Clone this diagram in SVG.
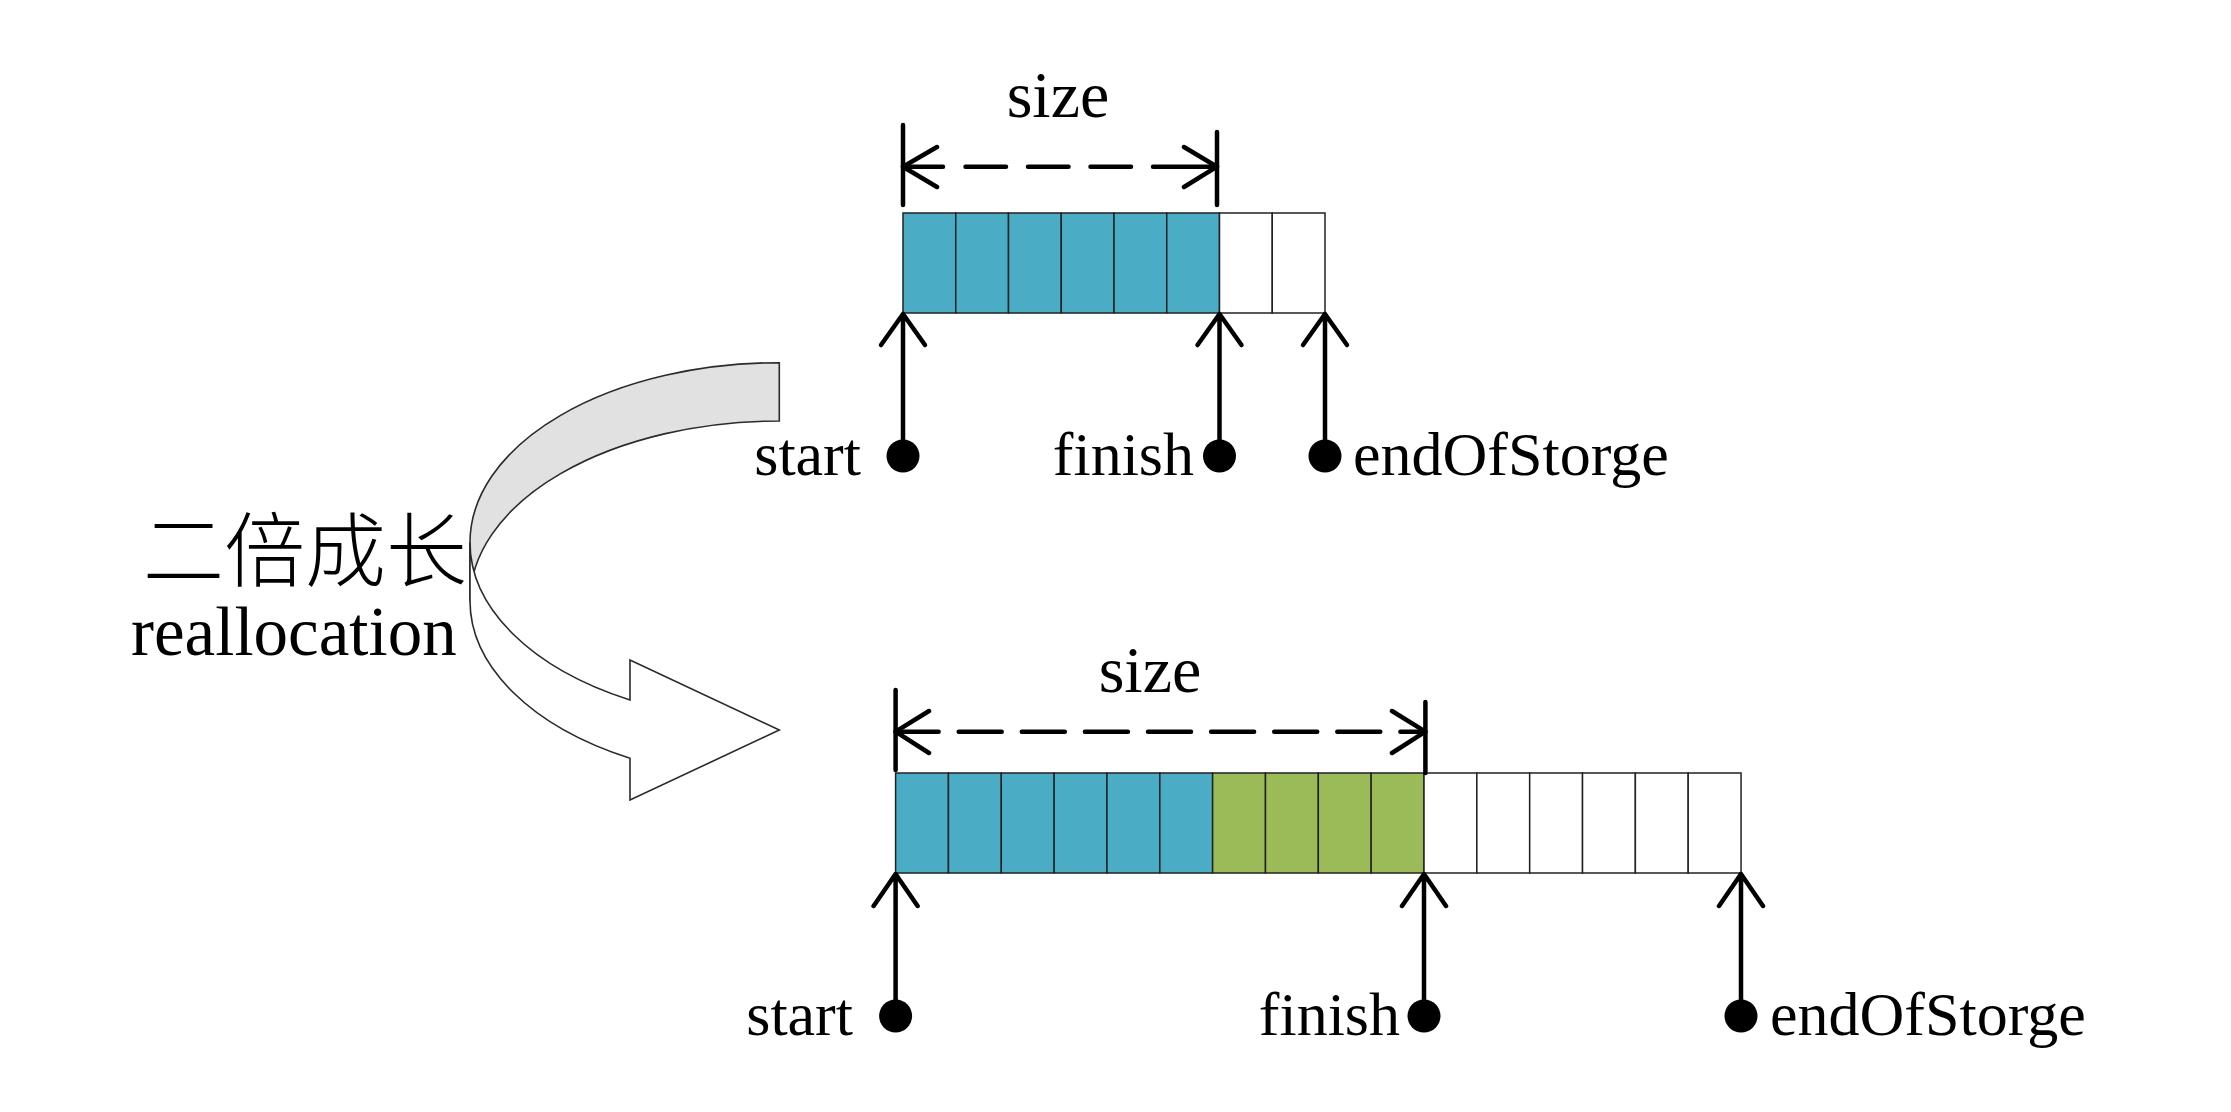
<svg xmlns="http://www.w3.org/2000/svg" width="2231" height="1112" viewBox="0 0 2231 1112">
<style>
.lbl{font-family:"Liberation Serif","Times New Roman",serif;font-size:62px;fill:#000}
.sz{font-family:"Liberation Serif","Times New Roman",serif;font-size:66px;fill:#000}
.cell{stroke:#222;stroke-width:1.5}
.blue{fill:#4BACC6}
.green{fill:#9BBB59}
.empty{fill:#fff}
.ln{fill:none;stroke:#000;stroke-width:4.5;stroke-linecap:round;stroke-linejoin:round}
.dot{fill:#000}
.curve{stroke:#2a2a2a;stroke-width:1.6;stroke-linejoin:miter}
</style>
<rect width="2231" height="1112" fill="#fff"/>

<g id="curved-arrow">
  <path class="curve" fill="#e1e1e1" d="M779.3,362.7 A309.3,179.8 0 0 0 470,542.5 L470,600.8 A309.3,179.8 0 0 1 779.3,421 Z"/>
  <path class="curve" fill="#fff" d="M470,542.5 A309.3,179.8 0 0 0 630,700 L630,660 L779.3,730 L630,800 L630,758.3 A309.3,179.8 0 0 1 470,600.8 Z"/>
</g>

<g id="growth-label">
  <text x="143" y="580" style="font-family:'Noto Sans CJK SC','Noto Sans CJK JP',sans-serif;font-size:81px;font-weight:300">二倍成长</text>
  <text class="lbl" x="131" y="655" style="font-size:69px">reallocation</text>
</g>

<g id="top-array">
  <rect class="cell blue" x="903" y="213" width="52.75" height="100"/>
  <rect class="cell blue" x="955.75" y="213" width="52.75" height="100"/>
  <rect class="cell blue" x="1008.5" y="213" width="52.75" height="100"/>
  <rect class="cell blue" x="1061.25" y="213" width="52.75" height="100"/>
  <rect class="cell blue" x="1114" y="213" width="52.75" height="100"/>
  <rect class="cell blue" x="1166.75" y="213" width="52.75" height="100"/>
  <rect class="cell empty" x="1219.5" y="213" width="52.75" height="100"/>
  <rect class="cell empty" x="1272.25" y="213" width="52.75" height="100"/>
</g>

<g id="bottom-array">
  <rect class="cell blue" x="895.6" y="773" width="52.84" height="100"/>
  <rect class="cell blue" x="948.44" y="773" width="52.84" height="100"/>
  <rect class="cell blue" x="1001.28" y="773" width="52.84" height="100"/>
  <rect class="cell blue" x="1054.12" y="773" width="52.84" height="100"/>
  <rect class="cell blue" x="1106.96" y="773" width="52.84" height="100"/>
  <rect class="cell blue" x="1159.8" y="773" width="52.84" height="100"/>
  <rect class="cell green" x="1212.64" y="773" width="52.84" height="100"/>
  <rect class="cell green" x="1265.48" y="773" width="52.84" height="100"/>
  <rect class="cell green" x="1318.32" y="773" width="52.84" height="100"/>
  <rect class="cell green" x="1371.16" y="773" width="52.84" height="100"/>
  <rect class="cell empty" x="1424" y="773" width="52.84" height="100"/>
  <rect class="cell empty" x="1476.84" y="773" width="52.84" height="100"/>
  <rect class="cell empty" x="1529.68" y="773" width="52.84" height="100"/>
  <rect class="cell empty" x="1582.52" y="773" width="52.84" height="100"/>
  <rect class="cell empty" x="1635.36" y="773" width="52.84" height="100"/>
  <rect class="cell empty" x="1688.2" y="773" width="52.84" height="100"/>
</g>

<g id="top-size-label"><text class="sz" x="1058" y="117" text-anchor="middle">size</text></g>
<g id="bottom-size-label"><text class="sz" x="1150" y="692" text-anchor="middle">size</text></g>

<g id="top-start"><circle class="dot" cx="903" cy="456" r="16.5"/><text class="lbl" x="861" y="475" text-anchor="end">start</text></g>
<g id="top-finish"><circle class="dot" cx="1219.5" cy="456" r="16.5"/><text class="lbl" x="1194" y="475" text-anchor="end">finish</text></g>
<g id="top-end"><circle class="dot" cx="1325" cy="456" r="16.5"/><text class="lbl" x="1353" y="475">endOfStorge</text></g>

<g id="bottom-start"><circle class="dot" cx="895.6" cy="1016" r="16.5"/><text class="lbl" x="853" y="1035" text-anchor="end">start</text></g>
<g id="bottom-finish"><circle class="dot" cx="1424" cy="1016" r="16.5"/><text class="lbl" x="1400" y="1035" text-anchor="end">finish</text></g>
<g id="bottom-end"><circle class="dot" cx="1741" cy="1016" r="16.5"/><text class="lbl" x="1770" y="1035">endOfStorge</text></g>

<g id="connectors">
  <!-- top size dimension -->
  <path class="ln" d="M903,125 V205 M1217,132 V205"/>
  <path class="ln" d="M903,166.7 H943 M965.5,166.7 H1006 M1028,166.7 H1068.5 M1090.5,166.7 H1131 M1153,166.7 H1217"/>
  <path class="ln" d="M937,147 L903,166.7 L937,187 M1184,147 L1217,166.7 L1184,187"/>
  <!-- bottom size dimension -->
  <path class="ln" d="M895.6,690 V770 M1425.4,702 V773"/>
  <path class="ln" d="M895.6,731.7 H938.6 M958.7,731.7 H1001.7 M1021.8,731.7 H1064.8 M1084.9,731.7 H1127.9 M1148,731.7 H1191 M1211.1,731.7 H1254.1 M1274.2,731.7 H1317.2 M1337.3,731.7 H1380.3 M1400.4,731.7 H1425.4"/>
  <path class="ln" d="M929,711 L895.6,731.7 L929,753 M1392,711 L1425.4,731.7 L1392,753"/>
  <!-- top pointers -->
  <path class="ln" d="M903,456 V314 M881,345 L903,314 L925,345"/>
  <path class="ln" d="M1219.5,456 V314 M1197.5,345 L1219.5,314 L1241.5,345"/>
  <path class="ln" d="M1325,456 V314 M1303,345 L1325,314 L1347,345"/>
  <!-- bottom pointers -->
  <path class="ln" d="M895.6,1016 V874 M873.6,906 L895.6,874 L917.6,906"/>
  <path class="ln" d="M1424,1016 V874 M1402,906 L1424,874 L1446,906"/>
  <path class="ln" d="M1741,1016 V874 M1719,906 L1741,874 L1763,906"/>
</g>
</svg>
